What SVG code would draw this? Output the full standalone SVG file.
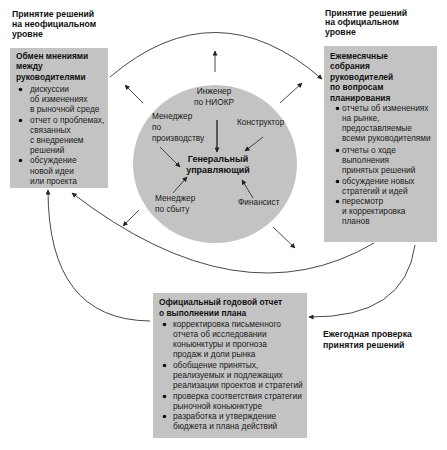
<svg xmlns="http://www.w3.org/2000/svg" width="447" height="450" viewBox="0 0 447 450">
<defs>
<marker id="ah" viewBox="0 0 10 10" refX="9" refY="5" markerWidth="6" markerHeight="5" markerUnits="userSpaceOnUse" orient="auto">
<path d="M0,0 L10,5 L0,10 z" fill="#222"/>
</marker>
<style>
.box{fill:#c3c3c3;}
.t{font-family:"Liberation Sans",Arial,sans-serif;font-size:8.3px;fill:#1a1a1a;}
.c{font-family:"Liberation Sans",Arial,sans-serif;font-size:8.3px;fill:#1a1a1a;}
.b{font-family:"Liberation Sans",Arial,sans-serif;font-size:8.4px;font-weight:bold;fill:#111;}
.g{font-family:"Liberation Sans",Arial,sans-serif;font-size:9px;font-weight:bold;fill:#111;}
.h{font-family:"Liberation Sans",Arial,sans-serif;font-size:8.7px;font-weight:bold;fill:#111;}
.ln{fill:none;stroke:#333;stroke-width:0.9;marker-end:url(#ah);}
.lnb{fill:none;stroke:#333;stroke-width:1.5;marker-end:url(#ah);}
.dot{fill:#111;}
</style>
</defs>
<rect width="447" height="450" fill="#fff"/>

<g id="label-informal">
<text class="h" x="12" y="17">Принятие решений</text>
<text class="h" x="12" y="27">на неофициальном</text>
<text class="h" x="12" y="37">уровне</text>
</g>

<g id="label-formal">
<text class="h" x="325" y="16">Принятие решений</text>
<text class="h" x="325" y="25">на официальном</text>
<text class="h" x="325" y="35">уровне</text>
</g>

<g id="label-annual">
<text class="h" x="323" y="337">Ежегодная проверка</text>
<text class="h" x="323" y="348">принятия решений</text>
</g>

<g id="node-left">
<rect class="box" x="10" y="48" width="98" height="140"/>
<text class="b" x="16" y="59">Обмен мнениями</text>
<text class="b" x="16" y="69">между</text>
<text class="b" x="16" y="80">руководителями</text>
<circle class="dot" cx="20.5" cy="89.5" r="1.8"/>
<circle class="dot" cx="20.5" cy="120.5" r="1.8"/>
<circle class="dot" cx="20.5" cy="160.5" r="1.8"/>
<text class="t" x="30" y="92">дискуссии</text>
<text class="t" x="30" y="102">об изменениях</text>
<text class="t" x="30" y="112">в рыночной среде</text>
<text class="t" x="30" y="123">отчет о проблемах,</text>
<text class="t" x="30" y="133">связанных</text>
<text class="t" x="30" y="143">с внедрением</text>
<text class="t" x="30" y="153">решений</text>
<text class="t" x="30" y="163">обсуждение</text>
<text class="t" x="30" y="174">новой идеи</text>
<text class="t" x="30" y="184">или проекта</text>
</g>

<g id="node-right">
<rect class="box" x="324" y="46" width="113" height="196"/>
<text class="b" x="330" y="59">Ежемесячные</text>
<text class="b" x="330" y="69">собрания</text>
<text class="b" x="330" y="80">руководителей</text>
<text class="b" x="330" y="90">по вопросам</text>
<text class="b" x="330" y="101">планирования</text>
<circle class="dot" cx="337.5" cy="108.5" r="1.8"/>
<circle class="dot" cx="337.5" cy="150.5" r="1.8"/>
<circle class="dot" cx="337.5" cy="181.5" r="1.8"/>
<circle class="dot" cx="337.5" cy="201.5" r="1.8"/>
<text class="t" x="342" y="111">отчеты об изменениях</text>
<text class="t" x="342" y="121">на рынке,</text>
<text class="t" x="342" y="131">предоставляемые</text>
<text class="t" x="342" y="141">всеми руководителями</text>
<text class="t" x="342" y="153">отчеты о ходе</text>
<text class="t" x="342" y="163">выполнения</text>
<text class="t" x="342" y="173">принятых решений</text>
<text class="t" x="342" y="184">обсуждение новых</text>
<text class="t" x="342" y="194">стратегий и идей</text>
<text class="t" x="342" y="204">пересмотр</text>
<text class="t" x="342" y="214">и корректировка</text>
<text class="t" x="342" y="224">планов</text>
</g>

<g id="node-bottom">
<rect class="box" x="153" y="293" width="154" height="145"/>
<text class="b" x="159" y="305">Официальный годовой отчет</text>
<text class="b" x="159" y="316">о выполнении плана</text>
<circle class="dot" cx="164.5" cy="324.5" r="1.8"/>
<circle class="dot" cx="164.5" cy="365.5" r="1.8"/>
<circle class="dot" cx="164.5" cy="396.5" r="1.8"/>
<circle class="dot" cx="164.5" cy="416.5" r="1.8"/>
<text class="t" x="173" y="327">корректировка письменного</text>
<text class="t" x="173" y="337">отчета об исследовании</text>
<text class="t" x="173" y="347">коньюнктуры и прогноза</text>
<text class="t" x="173" y="357">продаж и доли рынка</text>
<text class="t" x="173" y="368">обобщение принятых,</text>
<text class="t" x="173" y="378">реализуемых и подлежащих</text>
<text class="t" x="173" y="388">реализации проектов и стратегий</text>
<text class="t" x="173" y="399">проверка соответствия стратегии</text>
<text class="t" x="173" y="409">рыночной коньюнктуре</text>
<text class="t" x="173" y="419">разработка и утверждение</text>
<text class="t" x="173" y="429">бюджета и плана действий</text>
</g>

<g id="node-circle">
<ellipse cx="215" cy="164" rx="82" ry="79" fill="#c3c3c3"/>
</g>

<g id="node-engineer"><text class="c" x="214" y="94" text-anchor="middle">Инженер</text><text class="c" x="214" y="105" text-anchor="middle">по НИОКР</text></g>
<g id="node-production"><text class="c" x="152" y="119">Менеджер</text><text class="c" x="152" y="130">по</text><text class="c" x="152" y="141">производству</text></g>
<g id="node-constructor"><text class="c" x="237" y="125">Конструктор</text></g>
<g id="node-gm"><text class="g" x="218" y="162" text-anchor="middle">Генеральный</text><text class="g" x="218" y="173" text-anchor="middle">управляющий</text></g>
<g id="node-sales"><text class="c" x="155" y="201">Менеджер</text><text class="c" x="155" y="212">по сбыту</text></g>
<g id="node-finance"><text class="c" x="238" y="205">Финансист</text></g>

<g id="connectors">
<path class="ln" d="M110,77 Q216,-13 322,79"/>
<path class="ln" d="M215,72 L215,51"/>
<path class="ln" d="M143,103 L125,85"/>
<path class="ln" d="M280,103 L302,83"/>
<path class="ln" d="M139,210 L123,226"/>
<path class="ln" d="M273,227 L295,248"/>
<path class="lnb" d="M217,120 L217,152"/>
<path class="ln" d="M263,137 L245,151"/>
<path class="ln" d="M160,147 L180,167"/>
<path class="ln" d="M173,193 L187,177"/>
<path class="ln" d="M253,198 L242,180"/>
<path class="ln" d="M374,243 Q240,322 72,193"/>
<path class="ln" d="M415,245 Q405,318 309,317"/>
<path class="ln" d="M150,321 Q48,320 48,190"/>
</g>
</svg>
